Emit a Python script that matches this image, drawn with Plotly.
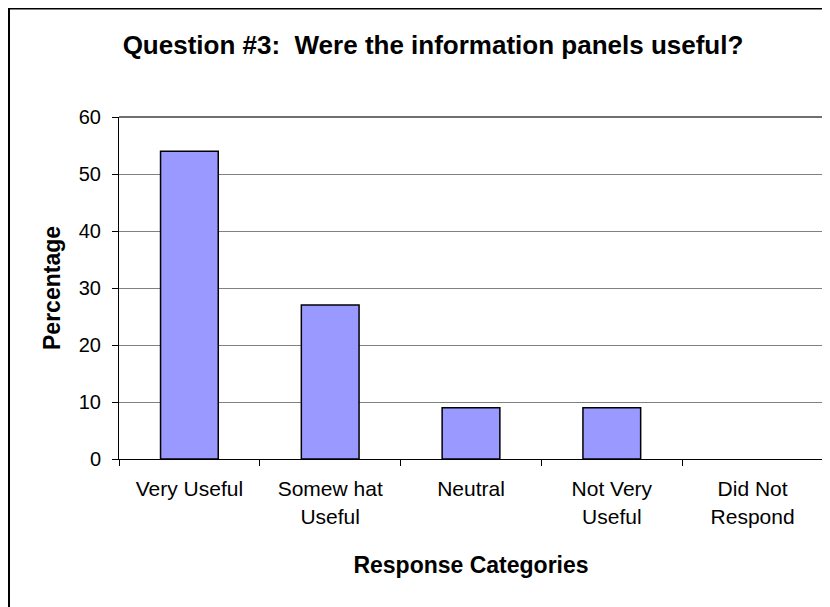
import plotly.graph_objects as go

categories = ["Very Useful", "Somew hat<br>Useful", "Neutral", "Not Very<br>Useful", "Did Not<br>Respond"]
percentages = [54, 27, 9, 9, 0]
y_ticks = [0, 10, 20, 30, 40, 50, 60]

FONT = "Liberation Sans, Arial, sans-serif"

# The page has an 8px body margin; figure sized to fit the window.
W, H = 822, 599
L, R, T, B = 111, 7, 109, 148
PW, PH = W - L - R, H - T - B

# zero-height bars get no outline (nothing visible in the reference)
outline_widths = [1.5 if v > 0 else 0 for v in percentages]

fig = go.Figure()
fig.add_trace(go.Bar(
    x=categories,
    y=percentages,
    marker=dict(color="#9999FF", line=dict(color="black", width=outline_widths)),
    width=0.41,
))

fig.update_layout(
    width=W,
    height=H,
    margin=dict(l=L, r=R, t=T, b=B),
    paper_bgcolor="white",
    plot_bgcolor="white",
    showlegend=False,
    font=dict(family=FONT, color="black"),
    title=dict(
        text="<b>Question #3:  Were the information panels useful?</b>",
        font=dict(size=26, family=FONT, color="black"),
        x=425 / W, xanchor="center",
        y=1 - 37 / H, yanchor="middle",
    ),
    xaxis=dict(
        showline=True, linecolor="black", linewidth=1,
        ticks="outside", ticklen=6, tickcolor="black",
        tickson="boundaries",
        tickfont=dict(size=21, family=FONT),
        ticklabelstandoff=11,
        title=dict(text="<b>Response Categories</b>", font=dict(size=23, family=FONT), standoff=30),
        mirror=False,
    ),
    yaxis=dict(
        range=[0, 60],
        tickvals=y_ticks,
        showline=True, linecolor="black", linewidth=1,
        ticks="outside", ticklen=6, tickcolor="black",
        showgrid=True, gridcolor="#808080", gridwidth=1,
        tickfont=dict(size=20, family=FONT),
        ticklabelstandoff=7,
        title=dict(text="<b>Percentage</b>", font=dict(size=23, family=FONT), standoff=11),
        zeroline=False,
    ),
    shapes=[
        # plot area border (top/right)
        dict(type="line", xref="paper", yref="paper", x0=0, x1=1, y0=1, y1=1,
             line=dict(color="#404040", width=1.5)),
        dict(type="line", xref="paper", yref="paper", x0=1, x1=1, y0=0, y1=1,
             line=dict(color="#404040", width=1.5)),
        # chart frame (left and top edges visible)
        dict(type="line", xref="paper", yref="paper", x0=(1 - L) / PW, x1=(1 - L) / PW,
             y0=-(B + 5) / PH, y1=(PH + T) / PH, line=dict(color="black", width=2)),
        dict(type="line", xref="paper", yref="paper", x0=(1 - L) / PW, x1=(W + 5 - L) / PW,
             y0=(PH + T) / PH, y1=(PH + T) / PH, line=dict(color="black", width=3)),
    ],
)

fig.write_html("out.html")
